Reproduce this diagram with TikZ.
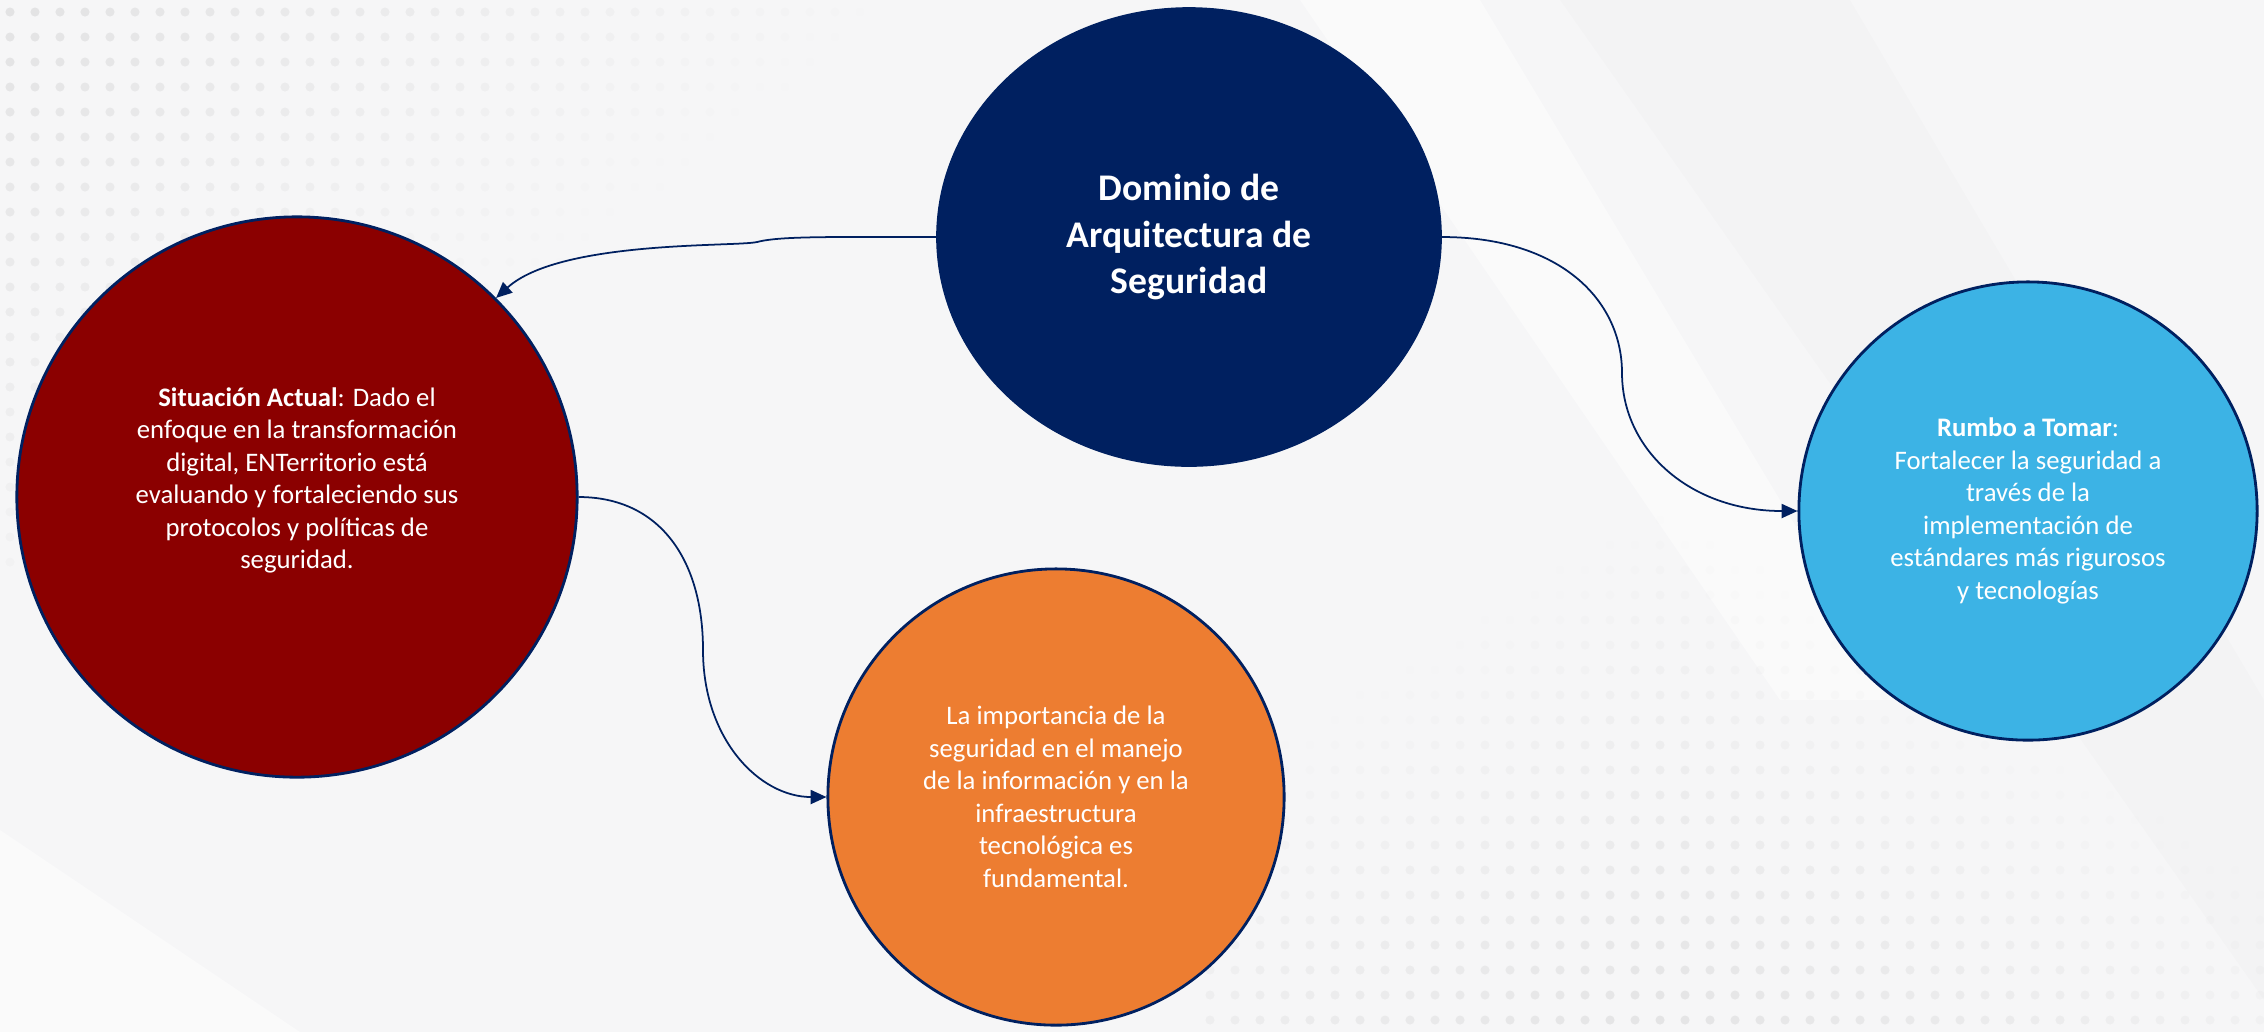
\documentclass[tikz,border=0pt]{standalone}
\usepackage{fontspec}
\setmainfont{Carlito}
\usetikzlibrary{arrows.meta,shapes.geometric}

\definecolor{navy}{HTML}{002060}
\definecolor{wine}{HTML}{8B0000}
\definecolor{naranja}{HTML}{ED7D31}
\definecolor{celeste}{HTML}{3CB3E5}
\definecolor{fondo}{HTML}{F6F6F7}

\begin{document}
\begin{tikzpicture}[x=0.01cm, y=-0.01cm,
		>={Triangle[length=4.5pt,width=4pt]},
		bubble/.style = {circle, draw=navy, line width=0.8pt, text=white, align=center,
			inner sep=0pt, font=\fontsize{7.6}{9.25}\selectfont},
		el/.style = {->, draw=navy, line width=0.5pt},
		dot/.style = {fill=black}
		]
		% fondo
		\useasboundingbox (0,0) rectangle (2264,1032);
		\fill[fondo] (0,0) rectangle (2264,1032);
		\fill[black, opacity=0.012] (1560,0) -- (1850,0) -- (2264,700) -- (2264,1000) -- cycle;
		\fill[white, opacity=0.45] (1300,0) -- (1480,0) -- (1900,700) -- (1780,700) -- cycle;
		\fill[white, opacity=0.45] (0,830) -- (300,1032) -- (0,1032) -- cycle;
		\foreach \i in {0,...,34} {
			\foreach \j in {0,...,22} {
				\pgfmathsetmacro{\op}{0.075*max(0, 1 - \i*25/900 - \j*25/700)}
				\fill[dot, opacity=\op] (\i*25+10, \j*25+12) circle[radius=1.3pt];
			}
		}
		\foreach \i in {0,...,42} {
			\foreach \j in {0,...,20} {
				\pgfmathsetmacro{\op}{0.075*max(0, 1 - abs(\i*25+1200-1650)/900 - (532-\j*25)/560)}
				\fill[dot, opacity=\op] (\i*25+1210, \j*25+520) circle[radius=1.3pt];
			}
		}
		
		\node (dom) [ellipse, fill=navy, draw=navy, text=white, align=center, inner sep=0pt,
			minimum width=5.04cm, minimum height=4.58cm,
			font=\fontsize{10.7}{13.3}\selectfont\bfseries] at (1189,237)
			{Dominio de\\Arquitectura de\\Seguridad};
		\node (sit) [bubble, fill=wine, minimum size=5.6cm, text depth=10.7pt] at (297,497)
			{\textbf{Situación Actual}: Dado el\\enfoque en la transformación\\digital, ENTerritorio está\\evaluando y fortaleciendo sus\\protocolos y políticas de\\seguridad.};
		\node (imp) [bubble, fill=naranja, minimum size=4.56cm] at (1056,797)
			{La importancia de la\\seguridad en el manejo\\de la información y en la\\infraestructura\\tecnológica es\\fundamental.};
		\node (rum) [bubble, fill=celeste, minimum size=4.58cm] at (2028,511)
			{\textbf{Rumbo a Tomar}:\\Fortalecer la seguridad a\\través de la\\implementación de\\estándares más rigurosos\\y tecnologías};
		
		\path[el] (dom.west) .. controls (830,237) and (780,236) .. (757,242)
			.. controls (735,247) and (560,240) .. (sit.45);
		\path[el] (dom.east) .. controls (1560,237) and (1622,300) .. (1622,373)
			.. controls (1622,450) and (1690,511) .. (rum.west);
		\path[el] (sit.east) .. controls (660,497) and (703,560) .. (703,650)
			.. controls (703,740) and (760,797) .. (imp.west);
		
\end{tikzpicture}
\end{document}
